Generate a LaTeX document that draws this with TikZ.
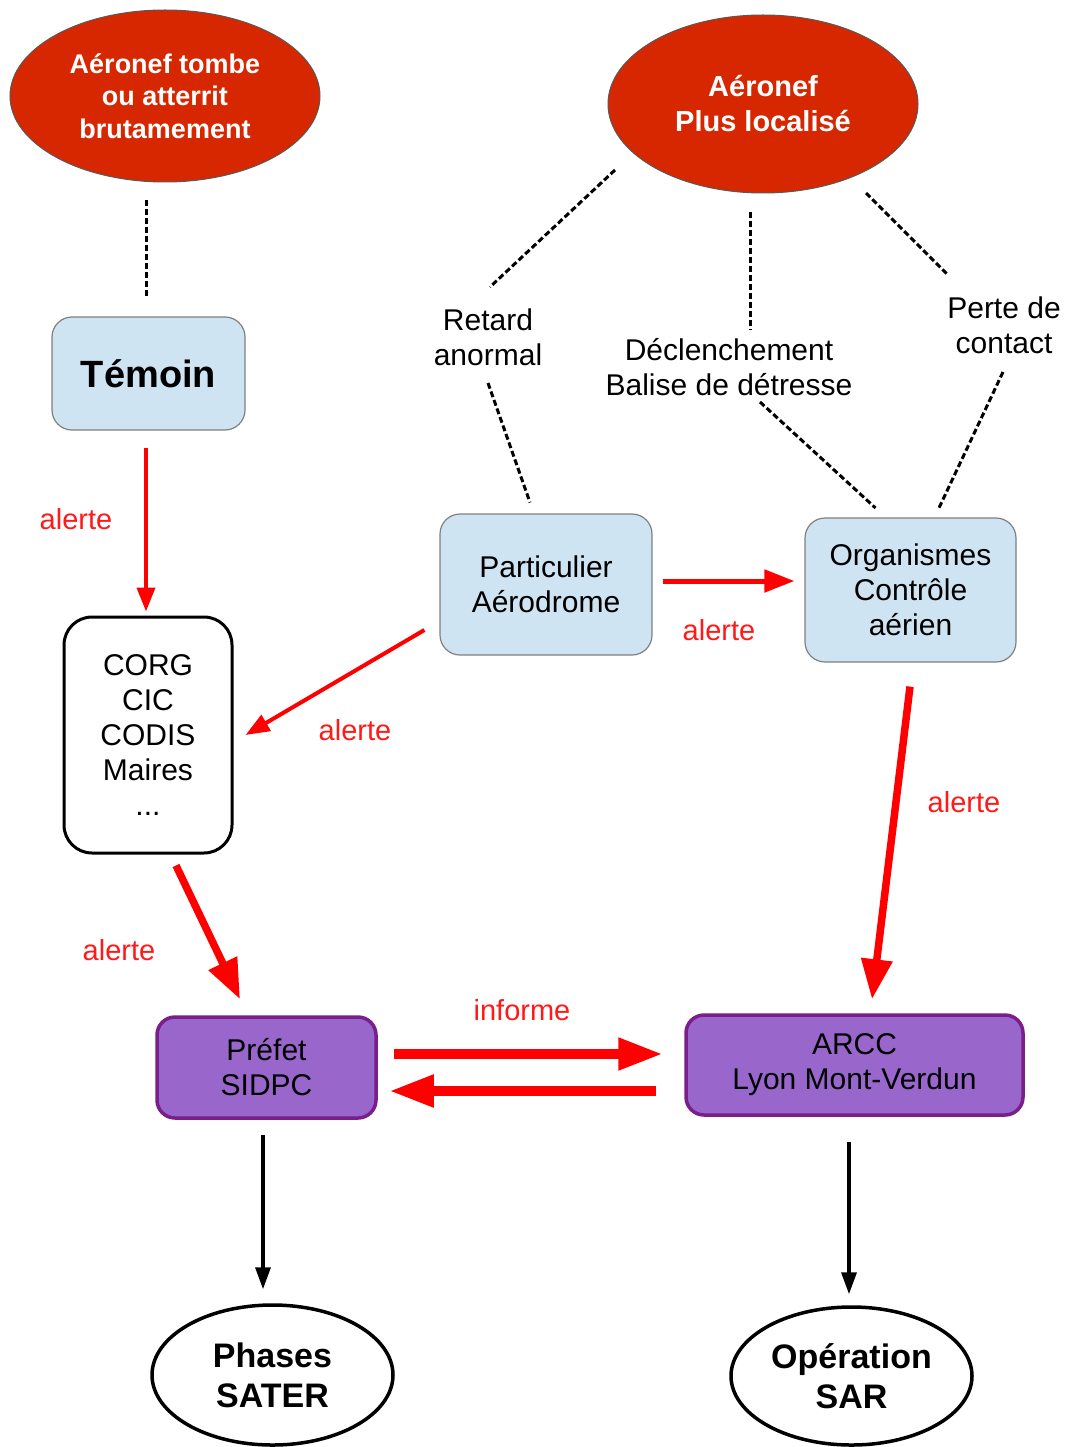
\documentclass[tikz,border=0pt]{standalone}
\usepackage{fontspec}
\setmainfont{Liberation Sans}
\usetikzlibrary{shapes.geometric,arrows.meta,calc}
\definecolor{ered}{HTML}{D62700}
\definecolor{lblue}{HTML}{CFE4F2}
\definecolor{pfill}{HTML}{9966CC}
\definecolor{pdraw}{HTML}{7A1E8C}
\definecolor{ared}{HTML}{FF0000}
\definecolor{lred}{HTML}{FF1A1A}
\begin{document}
\begin{tikzpicture}[x=1pt,y=-1pt,
  redell/.style={ellipse, fill=ered, draw=gray!70!black, line width=1pt, text=white, align=center, inner sep=0},
  bluebox/.style={rectangle, rounded corners=20pt, fill=lblue, draw=gray, line width=1.2pt, align=center, inner sep=0, font=\fontsize{30}{35}\selectfont},
  whitebox/.style={rectangle, rounded corners=28pt, fill=white, draw=black, line width=3pt, align=center, inner sep=0, font=\fontsize{30}{35}\selectfont},
  purplebox/.style={rectangle, rounded corners=18pt, fill=pfill, draw=pdraw, line width=3.5pt, align=center, inner sep=0, font=\fontsize{30}{35}\selectfont},
  endell/.style={ellipse, fill=white, draw=black, line width=3.5pt, align=center, inner sep=0, font=\fontsize{34}{40}\selectfont\bfseries},
  plaintext/.style={align=center, inner sep=0, font=\fontsize{30}{35}\selectfont},
  redlabel/.style={text=lred, inner sep=0, font=\fontsize{29}{34}\selectfont},
  dashline/.style={draw=black, line width=3pt, dash pattern=on 6pt off 3pt},
  thinred/.style={draw=ared, line width=4pt, -{Triangle[length=24pt,width=18pt]}},
  midred/.style={draw=ared, line width=5pt, -{Triangle[length=30pt,width=22pt]}},
  thickred/.style={draw=ared, line width=7.5pt, -{Triangle[length=40pt,width=30pt]}},
  fatred/.style={draw=ared, line width=10.5pt, -{Triangle[length=45pt,width=30pt]}},
  blackarrow/.style={draw=black, line width=3.5pt, -{Triangle[length=22pt,width=15pt]}}
]
\useasboundingbox (0,0) rectangle (1072,1447);

% nodes
\node[redell, minimum width=310pt, minimum height=172pt, font=\fontsize{27}{32.5}\selectfont\bfseries] (e1) at (165,96) {Aéronef tombe\\ou atterrit\\brutamement};
\node[redell, minimum width=310pt, minimum height=178pt, font=\fontsize{29}{35}\selectfont\bfseries] (e2) at (763,104) {Aéronef\\Plus localisé};
\node[bluebox, minimum width=193pt, minimum height=113pt, font=\fontsize{38}{44}\selectfont\bfseries] (tem) at (148.5,373.5) {Témoin};
\node[whitebox, minimum width=168pt, minimum height=236pt] (corg) at (148,735) {CORG\\CIC\\CODIS\\Maires\\...};
\node[bluebox, minimum width=212pt, minimum height=141pt] (part) at (546,584.5) {Particulier\\Aérodrome};
\node[bluebox, minimum width=211pt, minimum height=144pt] (org) at (910.5,590) {Organismes\\Contrôle\\aérien};
\node[purplebox, minimum width=219pt, minimum height=101pt] (pref) at (266.5,1067.5) {Préfet\\SIDPC};
\node[purplebox, minimum width=337pt, minimum height=100pt] (arcc) at (854.5,1065) {ARCC\\Lyon Mont-Verdun};
\node[endell, minimum width=241pt, minimum height=140pt] (phases) at (272.5,1375) {Phases\\SATER};
\node[endell, minimum width=241pt, minimum height=138pt] (oper) at (851.5,1376) {Opération\\SAR};

\node[plaintext] (retard) at (488,337) {Retard\\anormal};
\node[plaintext] (decl) at (729,367) {Déclenchement\\Balise de détresse};
\node[plaintext] (perte) at (1004,325) {Perte de\\contact};

% labels
\node[redlabel] (l1) at (76,519) {alerte};
\node[redlabel] (l2) at (719,630) {alerte};
\node[redlabel] (l3) at (355,730) {alerte};
\node[redlabel] (l4) at (119,950) {alerte};
\node[redlabel] (l5) at (964,802) {alerte};
\node[redlabel] (l6) at (522,1010) {informe};

% dashed connectors
\draw[dashline] ($(e1.center)+(-19,104)$) -- ($(tem.center)+(-2.5,-75.5)$);
\draw[dashline] ($(e2.center)+(-148,66)$) -- ($(retard.center)+(2,-50)$);
\draw[dashline] ($(retard.center)+(0,46)$) -- ($(part.center)+(-16,-82)$);
\draw[dashline] ($(e2.center)+(-13,108)$) -- ($(decl.center)+(21,-37)$);
\draw[dashline] ($(decl.center)+(31,35)$) -- ($(org.center)+(-35,-82)$);
\draw[dashline] ($(e2.center)+(103,89)$) -- ($(perte.center)+(-56,-50)$);
\draw[dashline] ($(perte.center)+(-1,47)$) -- ($(org.center)+(27.5,-80)$);

% red arrows
\draw[thinred] ($(tem.south)+(-2.5,17)$) -- ($(corg.north)+(-2,-4)$);
\draw[thinred] ($(part.west)+(-15,45.5)$) -- ($(corg.east)+(12,0)$);
\draw[midred] ($(part.east)+(10,-3.5)$) -- ($(org.west)+(-10,-9)$);
\draw[thickred] ($(org.south)+(-0.5,24)$) -- ($(arcc.north)+(17.5,-14)$);
\draw[thickred] ($(corg.south)+(28,11)$) -- ($(pref.north)+(-26.5,-16)$);
\draw[fatred] ($(pref.east)+(16,-13.5)$) -- ($(arcc.west)+(-21,-11)$);
\draw[fatred] ($(arcc.west)+(-28,26)$) -- ($(pref.east)+(11,23.5)$);

% black arrows
\draw[blackarrow] ($(pref.south)+(-3.5,15)$) -- ($(phases.north)+(-9.5,-14)$);
\draw[blackarrow] ($(arcc.south)+(-5.5,25)$) -- ($(oper.north)+(-2.5,-11)$);
\end{tikzpicture}
\end{document}
